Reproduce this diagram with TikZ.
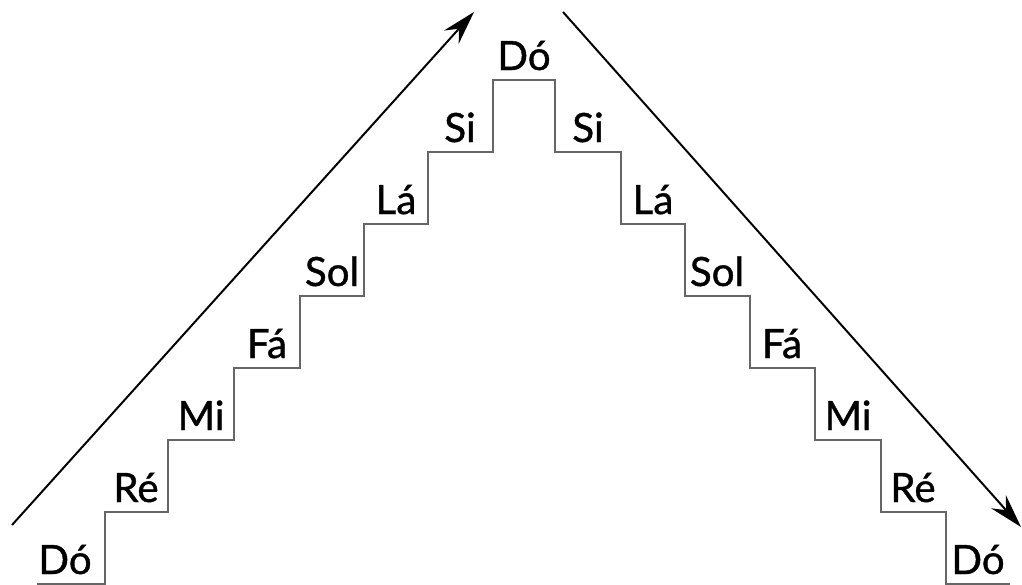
\documentclass[tikz,border=0pt]{standalone}
\usepackage{fontspec}
\setmainfont{Lato}
\newfontfamily\notefont{Lato}[FakeBold=1]
\usetikzlibrary{arrows.meta}
\begin{document}
\begin{tikzpicture}[x=0.025cm, y=-0.025cm, >={Stealth[length=24pt, width=14pt, inset=8pt]},
  stair/.style={draw=black!60, line width=1pt},
  note/.style={anchor=base, inner sep=0pt, font=\notefont\fontsize{28.7}{34}\selectfont}]
  \useasboundingbox (0,0) rectangle (1022,585);
  % the staircase, up and down
  \draw[stair] (37,584) -- (105,584) -- (105,512) -- (168,512) -- (168,440)
    -- (234,440) -- (234,368) -- (300,368) -- (300,296) -- (364,296)
    -- (364,224) -- (428,224) -- (428,152) -- (493,152) -- (493,80)
    -- (555,80) -- (555,152) -- (621,152) -- (621,224) -- (685,224)
    -- (685,296) -- (750,296) -- (750,368) -- (815,368) -- (815,440)
    -- (881,440) -- (881,512) -- (946,512) -- (946,584) -- (1010,584);
  % notes going up
  \foreach \name/\x [count=\k from 0] in {Dó/65,Ré/136,Mi/201,Fá/267,Sol/332,Lá/396,Si/460} {
    \node[note] (up\k) at (\x,{574-72*\k}) {\name};
  }
  \node[note] (top) at (524,70) {Dó};
  % notes going down
  \foreach \name/\x [count=\k from 1] in {Si/588,Lá/653,Sol/717,Fá/782,Mi/848,Ré/913,Dó/978} {
    \node[note] (down\k) at (\x,{70+72*\k}) {\name};
  }
  % arrows
  \coordinate (upstart) at (12,525);
  \coordinate (uptip) at (474,12);
  \coordinate (downstart) at (563,12);
  \coordinate (downtip) at (1021,527);
  \draw[->, line width=1.4pt] (upstart) -- (uptip);
  \draw[->, line width=1.4pt] (downstart) -- (downtip);
\end{tikzpicture}
\end{document}
